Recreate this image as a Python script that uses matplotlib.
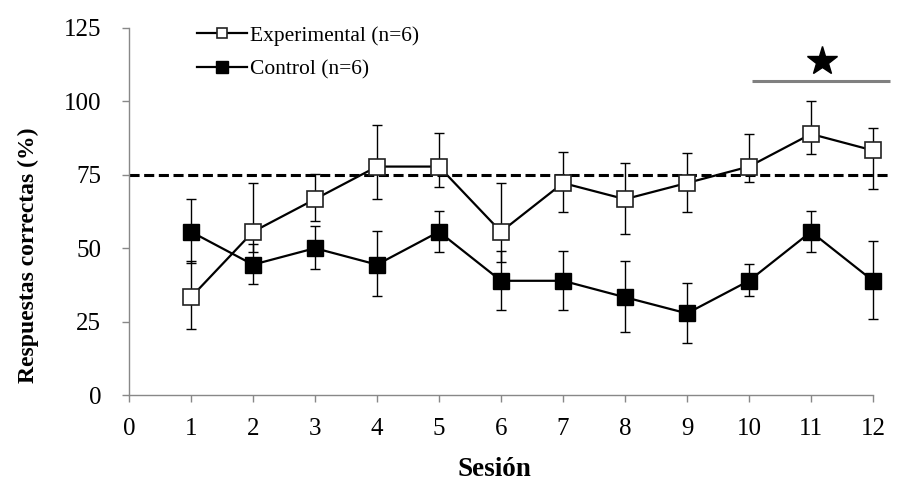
import matplotlib
matplotlib.use("Agg")
import matplotlib.pyplot as plt
import numpy as np

plt.rcParams['font.family'] = ['Liberation Serif', 'DejaVu Serif']

sessions = [1, 2, 3, 4, 5, 6, 7, 8, 9, 10, 11, 12]
exp_mean = [33.3, 55.6, 66.7, 77.8, 77.8, 55.6, 72.2, 66.7, 72.2, 77.8, 88.9, 83.3]
exp_top = [45.6, 72.1, 75.3, 92.0, 89.1, 72.1, 82.6, 78.9, 82.5, 89.0, 100.1, 90.9]
exp_bottom = [22.4, 48.6, 59.4, 66.9, 70.9, 45.4, 62.2, 54.7, 62.2, 72.4, 82.1, 70.2]
ctrl_mean = [55.6, 44.4, 50.0, 44.4, 55.6, 38.9, 38.9, 33.3, 27.8, 38.9, 55.6, 38.9]
ctrl_top = [66.8, 51.4, 57.6, 55.9, 62.7, 49.1, 49.1, 45.6, 38.1, 44.6, 62.8, 52.5]
ctrl_bottom = [44.9, 37.7, 42.8, 33.6, 48.7, 29.0, 29.0, 21.4, 17.7, 33.6, 48.8, 25.8]
criterion = 75
sig_range = [10.05, 12.27]
sig_level = 107
star_pos = (11.18, 113.8)

labels = ['Experimental (n=6)', 'Control (n=6)']
x_ticks = list(range(0, 13))
y_ticks = [0, 25, 50, 75, 100, 125]

fig = plt.figure(figsize=(9.04, 4.82), dpi=100)
ax = fig.add_axes([129/904, 1-395/482, (891.6-129)/904, 367/482])

grey = '#888888'

# criterion dashed line
ax.plot([0, 12.27], [criterion, criterion], color='black', lw=2.2,
        dashes=(3.3, 1.5), zorder=1)

e = np.array(exp_mean)
c = np.array(ctrl_mean)
exp_err = [e - np.array(exp_bottom), np.array(exp_top) - e]
ctrl_err = [c - np.array(ctrl_bottom), np.array(ctrl_top) - c]

ax.errorbar(sessions, ctrl_mean, yerr=ctrl_err, fmt='none', ecolor='black',
            elinewidth=1.0, capsize=3.6, capthick=1.0, zorder=2)
ax.errorbar(sessions, exp_mean, yerr=exp_err, fmt='none', ecolor='black',
            elinewidth=1.0, capsize=3.6, capthick=1.0, zorder=2)
ax.plot(sessions, ctrl_mean, color='black', lw=1.6, marker='s', ms=11.5,
        mfc='black', mec='black', mew=1.0, label=labels[1], zorder=3)
ax.plot(sessions, exp_mean, color='black', lw=1.6, marker='s', ms=11.0,
        mfc='white', mec='#222222', mew=1.2, label=labels[0], zorder=4)

# significance
ax.plot(sig_range, [sig_level, sig_level], color='#808080', lw=2.2,
        solid_capstyle='butt', clip_on=False)
ax.plot([star_pos[0]], [star_pos[1]], marker='*', ms=22, color='black',
        clip_on=False)

ax.set_xlim(0, 12.3)
ax.set_ylim(0, 125)
ax.set_xticks(x_ticks)
ax.set_yticks(y_ticks)
ax.spines['top'].set_visible(False)
ax.spines['right'].set_visible(False)
ax.spines['bottom'].set_bounds(0, 12)
for s in ['left', 'bottom']:
    ax.spines[s].set_color(grey)
    ax.spines[s].set_linewidth(1.0)
ax.tick_params(axis='both', colors=grey, labelcolor='black', labelsize=18,
               length=5, width=1.0, direction='out')
ax.tick_params(axis='y', pad=15)
ax.tick_params(axis='x', pad=11.5)

handles, labs = ax.get_legend_handles_labels()
order = [labs.index(l) for l in labels]
fig.legend([handles[i] for i in order], [labs[i] for i in order],
           loc='center left', bbox_to_anchor=(197/904, 1-52.5/482),
           bbox_transform=fig.transFigure, frameon=False, fontsize=15.5,
           handlelength=2.3, handletextpad=0.15, labelspacing=0.63,
           borderpad=0, borderaxespad=0, markerscale=0.7)

fig.text(28/904, 1-255/482, 'Respuestas correctas (%)', rotation=90,
         ha='center', va='center', fontsize=17, fontweight='bold')
fig.text(494/904, 1-476/482, 'Sesión', ha='center', va='baseline',
         fontsize=19.5, fontweight='bold')

fig.savefig('out.png', dpi=100)
